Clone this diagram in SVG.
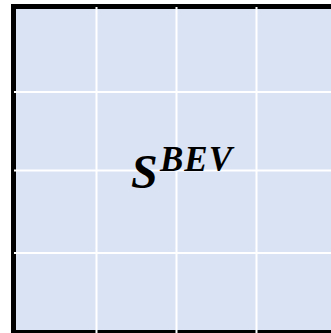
<svg xmlns="http://www.w3.org/2000/svg" width="331" height="333" viewBox="0 0 331 333">
<style>
.grid{stroke:#FFFFFF;stroke-width:2;fill:none}
.lbl{font-family:"Liberation Serif","DejaVu Serif",serif;font-weight:bold;font-style:italic;fill:#000}
</style>
<rect width="331" height="333" fill="#FFFFFF"/>
<g id="bev">
<rect x="13.5" y="6.5" width="330" height="326" fill="#DAE3F3" stroke="#000" stroke-width="5"/>
<g class="grid">
<line x1="96.5" y1="7" x2="96.5" y2="333"/>
<line x1="176.5" y1="7" x2="176.5" y2="333"/>
<line x1="256.5" y1="7" x2="256.5" y2="333"/>
<line x1="14" y1="92" x2="331" y2="92"/>
<line x1="14" y1="170.5" x2="331" y2="170.5"/>
<line x1="14" y1="253" x2="331" y2="253"/>
</g>
<text class="lbl" x="131" y="188" font-size="48">S</text>
<text class="lbl" x="160" y="171" font-size="35" letter-spacing="1">BEV</text>
</g>
</svg>
